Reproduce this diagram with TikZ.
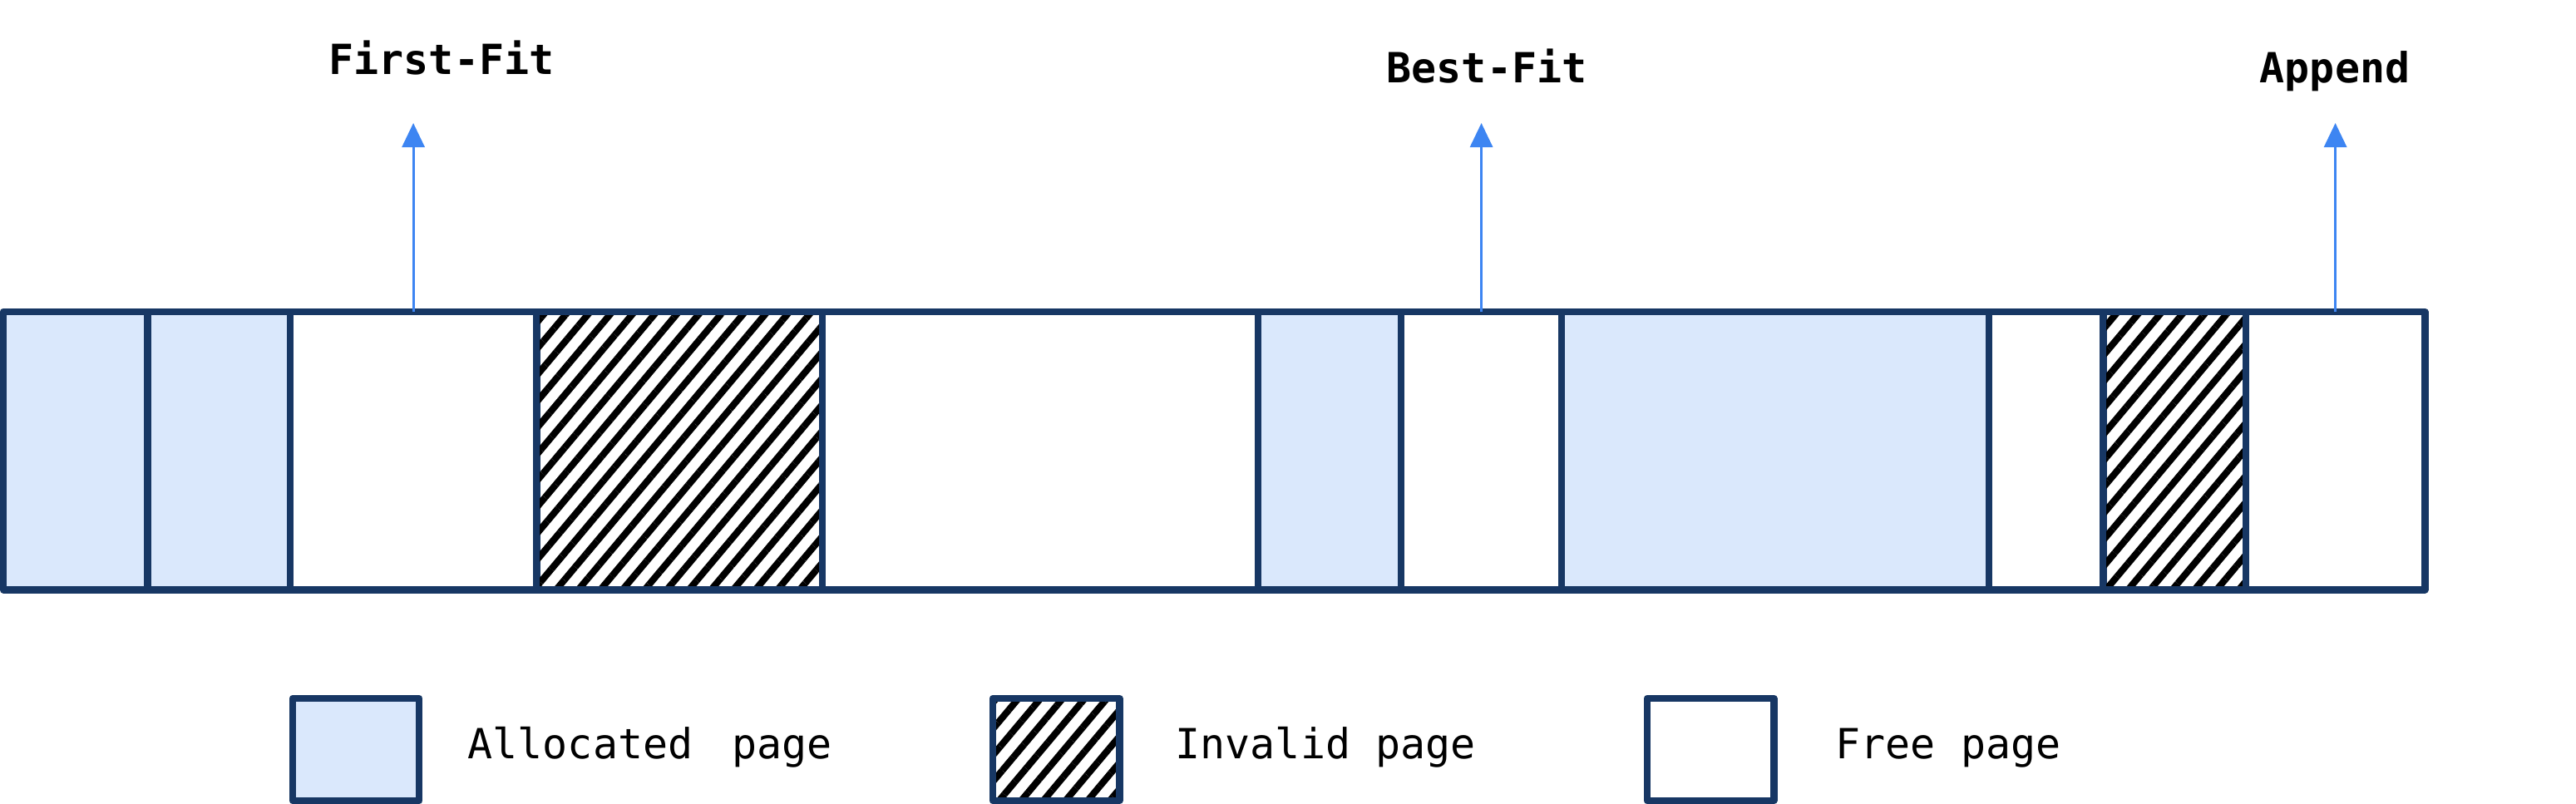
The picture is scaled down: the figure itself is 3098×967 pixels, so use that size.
\documentclass[tikz,border=0pt]{standalone}
\usepackage{fontspec}
\setmonofont{DejaVu Sans Mono}
\usetikzlibrary{positioning,arrows.meta,patterns.meta}
\definecolor{pageline}{RGB}{23,55,100}
\definecolor{pagefill}{RGB}{218,232,252}
\definecolor{ptrblue}{RGB}{61,133,242}
\tikzset{
    page/.style={
        rectangle,
        draw=pageline, line width=2.5pt,
        line join=round,
        inner sep=0pt, outer sep=0pt,
        minimum height=3.34cm,
        anchor=north west
    },
    alloc/.style={fill=pagefill},
    invalid/.style={pattern={Lines[angle=50,distance=5.8pt,line width=2.3pt]}},
    free/.style={fill=white},
    keybox/.style={page, minimum width=1.52cm, minimum height=1.23cm},
    keytext/.style={
        font=\fontsize{14.2}{17}\selectfont\ttfamily,
        inner sep=0pt, anchor=base west
    },
    strategy/.style={
        font=\fontsize{14.2}{17}\selectfont\ttfamily\bfseries,
        inner sep=0pt, anchor=base
    },
    ptr/.style={draw=ptrblue, line width=0.85pt, -{Triangle[length=0.29cm,width=0.27cm]}}
}

\begin{document}
\begin{tikzpicture}[x=0.01cm,y=-0.01cm]
    \fill[white] (0,0) rectangle (3098,967);
    \useasboundingbox (0,0) rectangle (3098,967);

    % -- page strip -- %
    \foreach \lft/\rgt/\kind [count=\i] in {4/177.5/alloc, 177.5/349/alloc,
            349/645/free, 645/989/invalid, 989/1513/free, 1513/1685/alloc,
            1685/1878/free, 1878/2392/alloc, 2392/2529/free,
            2529/2701/invalid, 2701/2916/free}{
        \pgfmathsetmacro\cellw{(\rgt-\lft)/100}
        \node[page, \kind, minimum width=\cellw cm] (c\i) at (\lft,375) {};
    }

    % -- strategies -- %
    \node[strategy] (firstFit) at (531,90) {First-Fit};
    \node[strategy] (bestFit) at (1788,100) {Best-Fit};
    \node[strategy] (append) at (2808,100) {Append};

    \coordinate (ffTip) at (c3.north |- 0,148);
    \coordinate (bfTip) at (c7.north |- 0,148);
    \coordinate (apTip) at (c11.north |- 0,148);
    \draw[ptr] (c3.north) -- (ffTip);
    \draw[ptr] (c7.north) -- (bfTip);
    \draw[ptr] (c11.north) -- (apTip);

    % -- legend -- %
    \node[keybox, alloc] (keyAlloc) at (352,840) {};
    \node[keybox, invalid] (keyInvalid) at (1194,840) {};
    \node[keybox, free] (keyFree) at (1981,840) {};

    \node[keytext] (txtAlloc) at (562,912) {Allocated\hspace{0.35em} page};
    \node[keytext] (txtInvalid) at (1413,912) {Invalid page};
    \node[keytext] (txtFree) at (2207,912) {Free page};
\end{tikzpicture}
\end{document}
